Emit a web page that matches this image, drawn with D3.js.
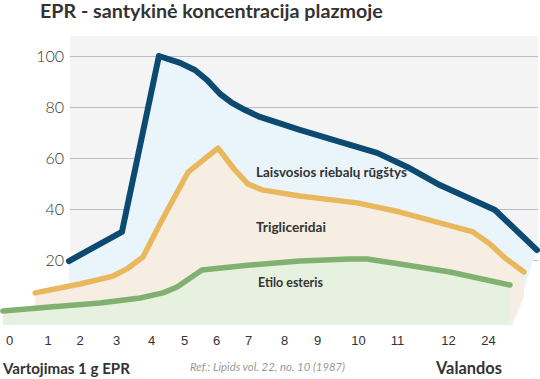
<!DOCTYPE html>
<html><head><meta charset="utf-8">
<script src="https://cdn.jsdelivr.net/npm/d3@7"></script>
<style>
html,body{margin:0;padding:0;background:#fff;}
svg{display:block;font-family:Lato,"Open Sans",sans-serif;}
</style></head>
<body>
<svg id="c" width="540" height="379"></svg>
<script>
// ---------- DATA ----------
const titleText = "EPR - santykinė koncentracija plazmoje";
const tickHours = [0,1,2,3,4,5,6,7,8,9,10,11,12,24];
const tickLabels = ["0","1","2","3","4","5","6","7","8","9","10","11","12","24"];
const yTicks = [20,40,60,80,100];
const seriesNames = ["Laisvosios riebalų rūgštys","Trigliceridai","Etilo esteris"];
// [hour position, relative concentration]
const ffaValues = [[1.67,19.6],[3.17,31.0],[4.24,100],[4.88,97.3],[5.34,94.5],[5.72,90.6],[6.13,85.1],[6.5,81.6],[6.91,78.8],[7.33,76.1],[8.48,71.0],[9.56,66.3],[10.49,62.0],[11.2,56.5],[11.84,49.4],[26.1,39.6],[38.7,23.9]];
const tgValues = [[0.68,7.1],[2.01,10.6],[2.92,13.7],[3.31,16.5],[3.77,21.2],[4.27,34.1],[4.73,45.1],[5.13,54.5],[6.06,63.9],[6.59,55.3],[7.0,49.8],[7.39,47.5],[8.48,45.1],[9.98,42.4],[11.06,38.8],[19.5,31.0],[24.6,26.3],[29.1,20.8],[34.8,15.3]];
const eeValues = [[-0.16,0],[1.08,1.6],[2.56,3.1],[3.69,5.1],[4.36,7.1],[4.79,9.4],[5.56,16.1],[7.06,18.0],[8.48,19.6],[9.8,20.4],[10.23,20.4],[11.06,18.4],[12.6,15.3],[30.6,10.2]];
const footLeft = "Vartojimas 1 g EPR";
const footRef = "Ref.: Lipids vol. 22, no. 10 (1987)";
const footRight = "Valandos";

// ---------- LAYOUT ----------
const W = 540, H = 379;
const tickPx = [9,47.5,79.5,116,151,184,216,248,284,317,358,397,448,488];
const plotLeft = 70, plotRight = 538, plotTop = 36;
const svg = d3.select("#c");
const x = d3.scaleLinear().domain(tickHours).range(tickPx);
const y = d3.scaleLinear().domain([0,100]).range([311,56]);
const yBase = y.invert(325);

const colors = {
  ffaLine:"#0c4a72", ffaFill:"#eaf5fb",
  tgLine:"#e9b75c", tgFill:"#f6eee2",
  eeLine:"#80b170", eeFill:"#e6f1df",
  bg:"#f4f4f4", grid:"#b9bcc9", text:"#333"
};

// background
svg.append("rect").attr("x",plotLeft).attr("y",plotTop)
  .attr("width",plotRight-plotLeft).attr("height",252-plotTop).attr("fill",colors.bg);

// gridlines + y labels
const yAxis = svg.append("g").attr("transform",`translate(${plotLeft},0)`)
  .call(d3.axisLeft(y).tickValues(yTicks).tickSize(-(plotRight-plotLeft)).tickPadding(6));
yAxis.select(".domain").remove();
yAxis.selectAll("line").attr("stroke",colors.grid).attr("stroke-width",1);
yAxis.selectAll("text").attr("font-size",16).attr("font-weight",300)
  .attr("fill",colors.text).attr("font-family","Lato,sans-serif");

const line = d3.line().x(d=>x(d[0])).y(d=>y(d[1]));

// fills
const ffaFillPts = [...ffaValues, [x.invert(512), yBase], [ffaValues[0][0], yBase]];
const tgLast = tgValues[tgValues.length-1];
const tgFillPts = [...tgValues, [tgLast[0], y.invert(297)], [x.invert(512), yBase], [tgValues[0][0], yBase]];
const eeLast = eeValues[eeValues.length-1];
const eeFillPts = [...eeValues, [eeLast[0], yBase], [eeValues[0][0], yBase]];

svg.append("path").attr("d", line(ffaFillPts)+"Z").attr("fill",colors.ffaFill);
svg.append("path").attr("d", line(tgFillPts)+"Z").attr("fill",colors.tgFill);
svg.append("path").attr("d", line(eeFillPts)+"Z").attr("fill",colors.eeFill);

// lines
[[ffaValues,colors.ffaLine,6],[tgValues,colors.tgLine,5.5],[eeValues,colors.eeLine,5.5]].forEach(([vals,c,w])=>{
  svg.append("path").attr("d", line(vals)).attr("fill","none").attr("stroke",c)
    .attr("stroke-width",w).attr("stroke-linecap","round").attr("stroke-linejoin","round");
});

function fit(sel, w){
  const len = sel.node().getComputedTextLength();
  const fs = parseFloat(sel.attr("font-size"));
  sel.attr("font-size", (fs*w/len).toFixed(2));
  return sel;
}

// series labels
const labelPos = [[256,177,151],[256,232,70],[258,287,65]];
seriesNames.forEach((n,i)=>{
  const t = svg.append("text").attr("x",labelPos[i][0]).attr("y",labelPos[i][1])
    .attr("font-size",12.5).attr("font-weight",700).attr("fill",colors.text).text(n);
  fit(t,labelPos[i][2]);
});

// x axis
const xAxis = svg.append("g").attr("transform","translate(0,336)")
  .call(d3.axisBottom(x).tickValues(tickHours).tickFormat((d,i)=>tickLabels[i]).tickSize(0).tickPadding(0));
xAxis.select(".domain").remove();
xAxis.selectAll("text").attr("font-size",13).attr("fill",colors.text).attr("dy","0.71em");

// title
fit(svg.append("text").attr("x",40).attr("y",18).attr("font-size",18).attr("font-weight",700)
  .attr("fill",colors.text).text(titleText), 343);

// footer
fit(svg.append("text").attr("x",3).attr("y",374).attr("font-size",15).attr("font-weight",700)
  .attr("fill",colors.text).text(footLeft), 127);
fit(svg.append("text").attr("x",190).attr("y",371).attr("font-size",10).attr("font-style","italic")
  .attr("fill","#999").text(footRef), 155);
fit(svg.append("text").attr("x",436).attr("y",374).attr("font-size",15).attr("font-weight",700)
  .attr("fill",colors.text).text(footRight), 66);
</script>
</body></html>
